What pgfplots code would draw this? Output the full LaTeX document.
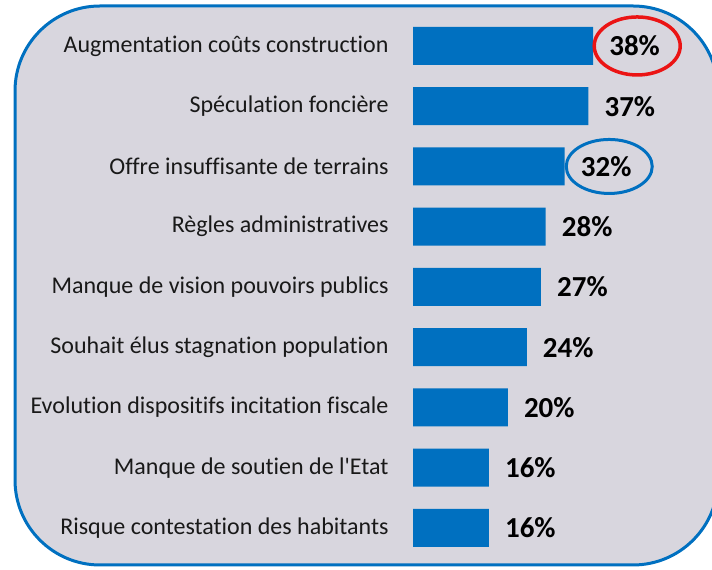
\documentclass[border=0pt]{standalone}
\usepackage{pgfplots}
\pgfplotsset{compat=1.18}
\usepackage{fontspec}
\setmainfont{Carlito}[Ligatures={NoCommon}]
\definecolor{barblue}{RGB}{0,112,192}
\definecolor{bgcol}{RGB}{216,214,222}
\definecolor{ringred}{RGB}{235,20,20}
\begin{document}
\begin{tikzpicture}[x=1bp,y=1bp]
\useasboundingbox (0,0) rectangle (712,570);
\draw[barblue, line width=3bp, fill=bgcol, rounded corners=85bp] (15,5) rectangle (718,564);
\begin{axis}[
  at={(413bp,11.9bp)}, anchor=south west,
  scale only axis, width=284.4bp, height=542.25bp,
  xbar, bar width=38bp,
  xmin=0, xmax=60, ymin=-0.5, ymax=8.5,
  axis line style={draw=none}, tick style={draw=none},
  xticklabels={}, xtick=\empty,
  ytick={0,...,8},
  yticklabels={Risque contestation des habitants, Manque de soutien de l\textquotesingle Etat, Evolution dispositifs incitation fiscale, Souhait élus stagnation population, Manque de vision pouvoirs publics, Règles administratives, Offre insuffisante de terrains, Spéculation foncière, Augmentation coûts construction},
  yticklabel style={font=\fontsize{24bp}{28bp}\selectfont, anchor=east, inner sep=0pt, xshift=-20bp, text=black!90},
  /pgf/number format/assume math mode=true,
  nodes near coords={\pgfmathprintnumber{\pgfplotspointmeta}\%},
  point meta=x,
  nodes near coords style={font=\bfseries\fontsize{29bp}{32bp}\selectfont, anchor=west, inner sep=0pt, xshift=16bp, text=black},
  clip=false,
]
\addplot[fill=barblue, draw=none] coordinates {
(16,0) (16,1) (20,2) (24,3) (27,4) (28,5) (32,6) (37,7) (38,8)};
\draw[ringred, line width=3.5bp] (axis cs:47.3,8) ellipse [x radius=43bp, y radius=29bp];
\draw[barblue, line width=3bp] (axis cs:41.4,6) ellipse [x radius=43bp, y radius=27bp];
\end{axis}
\end{tikzpicture}
\end{document}
